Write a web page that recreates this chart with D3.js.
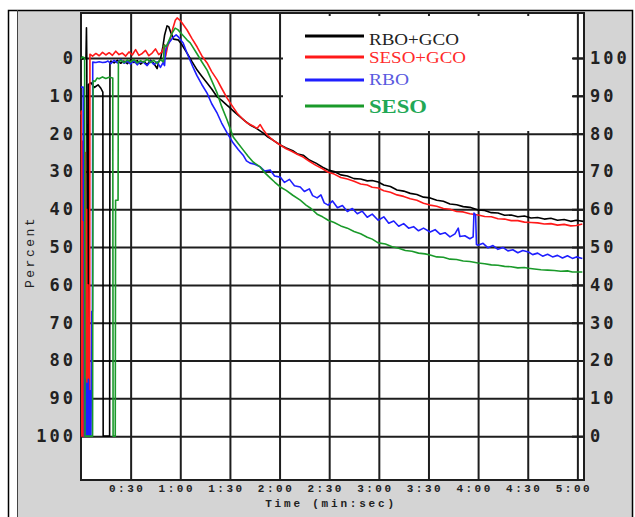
<!DOCTYPE html>
<html>
<head>
<meta charset="utf-8">
<script src="https://cdn.jsdelivr.net/npm/d3@7"></script>
<style>
  body { margin: 0; background: #fff; }
  svg { display: block; }
  .grid line { stroke: #1e1e1e; stroke-width: 2; }
  .grid path { display: none; }
  .ylab text { font-family: "DejaVu Sans Mono", monospace; font-weight: bold; font-size: 17px; letter-spacing: 3px; fill: #222; }
  .xlab text { font-family: "Liberation Mono", monospace; font-weight: bold; font-size: 11px; letter-spacing: 2.5px; fill: #222; }
  .trace { fill: none; stroke-width: 1.6; stroke-linejoin: round; }
</style>
</head>
<body>
<script>
// series names + colours (legend order)
const seriesNames = ['RBO+GCO', 'SESO+GCO', 'RBO', 'SESO'];
const seriesColors = ['#000000', '#ff1a1a', '#1f1fff', '#1a9a2a'];
const legendTextColors = ['#222222', '#ff2a2a', '#5a5ae0', '#22a855'];

// ticks
const timeTicks = [30, 60, 90, 120, 150, 180, 210, 240, 270, 300];   // seconds
const pctTicks = [0, 10, 20, 30, 40, 50, 60, 70, 80, 90, 100];

// traces as [seconds, percent (left axis)]
const rboGco = [
  [0,0],[1,0.3],[2,0],[3,0.2],[3.3,-8],[3.5,0],[3.9,88],[4.3,86],[4.6,7],[6,6.5],[8,7.8],[10.3,7.1],[12,8],[13.2,9],
  [13.4,100],[17.3,100],[17.5,1.2],[18,0.8],[20,1.3],[22,0.6],[24,1.4],[26,0.8],[28,1.5],[30,0.5],[32,1.2],[34,0.7],
  [36,1.6],[38,0.9],[40,1.8],[42,0.6],[44,1.4],[46,2.8],[47,0.9],[48,0.4],[49.5,-3],[50.5,-6],[52,-8.5],[53,-8.3],
  [54.5,-6.5],[56,-5],[58.7,-4.8],[61,-3.5],[64.1,-1.3],[67,0.9],[70.2,3.2],[73,4.8],[76.2,6.6],[79,8.2],[82.3,10.3],
  [85,11.2],[88,12.4],[90.1,13.2],[93,14.4],[96.2,15.6],[99,16.6],[102.2,17.7],[106,18.6],[110,19.8],[113,20.9],
  [116,21.7],[120.4,23.0],[124,23.8],[128,24.5],[131,25.4],[134.3,25.7],[138,27.0],[142,27.8],[146,28.9],[149.4,29.6],
  [153,30.0],[157,30.9],[161,31.2],[165,31.9],[169,32.0],[173,32.5],[176,32.4],[179.6,32.8],[183,33.6],[187,34.0],
  [191,34.9],[195,35.2],[199,35.8],[203,36.1],[207,36.8],[211,37.0],[215,37.6],[219,37.9],[223,38.6],[227,38.8],
  [231,39.3],[235,39.5],[240,40.2],[244,40.3],[248,40.9],[252,41.0],[256,41.6],[260,41.5],[264,42.0],[268,41.8],
  [272,42.3],[276,42.2],[280,42.6],[284,42.4],[288,42.9],[292,42.7],[296,43.2],[299.4,42.9],[303.6,43.2]
];
const sesoGco = [
  [0,15],[0.3,14],[0.5,100],[1,22],[1.4,100],[1.8,30],[2.2,100],[2.6,25],[3,100],[3.4,40],[3.8,100],[4.2,60],
  [4.6,100],[5.2,100],[5.4,-1],[7,-0.5],[9,-1.2],[11,-0.6],[13,-1.5],[15,-0.8],[17,-1.4],[19,-0.7],[21,-1.8],
  [23,-0.9],[25,-1.3],[27,-0.5],[29,-1.6],[31,-0.8],[33,-2.2],[35,-0.7],[37,-1.2],[39,-2.0],[41,-0.6],[43,-1.3],
  [45,-2.4],[47,-0.9],[49,-1.6],[50.5,-3.5],[51.2,-0.5],[52.3,-3],[54,-5],[55.5,-7.8],[57,-10],[58.1,-10.6],
  [59.5,-10.1],[61,-9.3],[64.1,-7.4],[67,-5.2],[70.2,-2.9],[73,-0.6],[76.2,1.3],[79,3.6],[82.3,5.8],[85,8.0],
  [88.3,10.6],[91,12.4],[94.4,14.6],[97,15.8],[100.4,17.2],[104,18.0],[106.5,18.6],[108.3,17.6],[110,18.9],
  [113,20.6],[116,21.7],[120.4,23.0],[124,24.0],[127,24.6],[131,25.5],[134.3,26.2],[138,27.3],[142,28.4],[146,29.3],
  [149.4,30.2],[153,30.7],[157,31.6],[161,32.0],[165,32.6],[169,33.3],[173,33.6],[176,34.2],[179.6,34.4],[183,35.1],
  [187,35.5],[191,36.2],[195,36.6],[199,37.2],[203,37.6],[207,38.4],[211,38.9],[215,39.2],[219,39.8],[223,40.0],
  [227,40.6],[231,40.7],[235,41.2],[240,41.5],[244,41.9],[248,42.0],[252,42.5],[256,42.6],[260,43.0],[264,43.0],
  [268,43.4],[272,43.5],[276,43.6],[280,43.9],[284,43.8],[288,44.2],[292,44.0],[296,44.4],[299.4,44.3],[303,43.9]
];
const rbo = [
  [0,7.7],[1.3,7.7],[1.5,43],[1.9,43],[2.1,100],[2.6,85],[3,100],[3.5,86],[4,100],[4.5,85],[5,100],[5.5,88],[6,100],
  [6.5,67],[6.9,67],[7.1,1.1],[9,1.2],[11,1.0],[13,1.2],[15,1.1],[16.3,0.8],[18,1.5],[20,0.6],[22,1.3],[24,0.4],
  [26,1.4],[28,0.8],[30,1.6],[32,0.7],[34,1.8],[36,0.9],[38,1.2],[40,2.0],[42,0.8],[44,1.7],[46,1.0],[48,2.5],
  [49.6,1.2],[50.5,2.0],[51,-1.5],[52,-3.4],[54,-4.5],[56,-5.6],[57.5,-6.1],[59,-5.5],[61.7,-4.0],[64,-1.4],
  [67.7,2.4],[70,4.6],[73,7.0],[76.2,9.3],[79,12.1],[82.3,14.6],[85,17.2],[88.3,19.8],[92,22.5],[95,24.2],[98,25.7],
  [100,27.2],[102.2,27.8],[105,28.1],[108.3,28.8],[111,29.9],[114.3,29.6],[117,31.2],[120.4,31.5],[123,32.9],
  [126,32.1],[129,33.8],[132.5,34.1],[135,35.3],[138,34.6],[140,36.4],[142.7,37.0],[145,36.2],[147,38.3],[149.4,38.9],
  [152,37.8],[155,39.6],[158,39.0],[161,40.6],[164,39.8],[167,41.2],[170,40.5],[173,42.1],[176,41.3],[179.6,42.9],
  [183,42.0],[186,43.7],[189,43.1],[192,44.5],[195,43.8],[198,45.0],[201,44.6],[204,45.7],[207,45.0],[211,46.0],
  [214,45.4],[217,46.6],[220,46.2],[223,47.3],[226,46.5],[228,45.0],[229,47.2],[232,47.0],[235,47.8],[237,47.3],
  [237.5,41.0],[238.5,41.5],[239,49.3],[240,49.5],[243,49.0],[246,50.2],[249,49.6],[252,50.6],[255,50.1],[258,51.0],
  [261,50.7],[264,51.5],[267,50.9],[270.4,51.3],[273,52.0],[276,51.6],[279,52.4],[282,51.9],[285,52.6],[288,52.2],
  [291,52.9],[294,52.3],[297,53.0],[299.4,52.6],[303,53.0]
];
const seso = [
  [0,0.2],[1,-0.3],[2.2,0],[2.4,100],[7,100],[7.3,6.0],[8.5,6.2],[9.7,5.3],[11,5.5],[13,5.0],[15,5.4],[17,5.1],
  [19.2,5.3],[19.4,100],[20.7,100],[20.9,37.6],[22.4,37.6],[22.6,1.1],[24,0.6],[26,1.2],[28,0.5],[30,1.0],[32,0.4],
  [34,1.3],[36,0.7],[38,1.1],[40,0.3],[42,1.2],[44,0.6],[46,1.4],[48,0.5],[49.8,1.0],[50.3,-3.4],[51.5,-3.0],
  [53,-4.5],[55,-6.5],[56.9,-7.9],[58.5,-7.5],[61,-6.3],[64,-4.8],[66,-4.0],[70,-1.2],[73,1.0],[76.2,3.2],[79,6.0],
  [82.3,9.3],[85,12.8],[88.3,16.4],[92,20.9],[95,22.6],[98,24.3],[101,26.0],[104,27.5],[108.3,28.8],[111,30.3],
  [114.3,31.7],[117,32.8],[120.4,34.1],[124,35.0],[128,36.3],[132.5,37.6],[136,38.9],[139,39.8],[142.7,41.3],
  [146,42.0],[149.4,42.9],[153,43.5],[157,44.4],[161,45.0],[165,45.9],[169,46.5],[173,47.4],[176,47.9],[179.6,48.9],
  [184,49.2],[188,49.9],[192,50.3],[196,50.9],[200,51.1],[204,51.6],[208,51.8],[211,52.1],[215,52.6],[219,52.7],
  [223,53.2],[227,53.3],[231,53.7],[235,53.8],[240,54.2],[244,54.4],[248,54.7],[252,54.8],[256,55.1],[260,55.2],
  [264,55.5],[268,55.4],[270.4,55.6],[274,55.8],[278,56.0],[282,56.1],[286,56.2],[290,56.4],[294,56.3],[297,56.6],
  [299.4,56.6],[303,56.6]
];
const traces = [rboGco, sesoGco, rbo, seso];

const W = 635, H = 517;
const plot = { left: 81, right: 584, top: 13, bottom: 480 };

const svg = d3.select('body').append('svg').attr('width', W).attr('height', H);

// frame + grey panel
svg.append('rect').attr('x', 17).attr('y', 10).attr('width', 615).attr('height', H).attr('fill', '#d4d4d4');
svg.append('path').attr('d', `M8.5,${H} V10.5 H632.5 V${H}`).attr('fill', 'none').attr('stroke', '#000').attr('stroke-width', 1.5);
svg.append('line').attr('x1', 17.5).attr('x2', 17.5).attr('y1', 10).attr('y2', H).attr('stroke', '#444').attr('stroke-width', 1);

// plot area
svg.append('rect')
  .attr('x', plot.left).attr('y', plot.top)
  .attr('width', plot.right - plot.left).attr('height', plot.bottom - plot.top)
  .attr('fill', '#fff');

const x = d3.scaleLinear().domain([0, 304]).range([plot.left, plot.right]);
const y = d3.scaleLinear().domain([-11.9, 111.6]).range([plot.top, plot.bottom]);

const mmss = (s) => `${Math.floor(s / 60)}:${d3.format('02d')(s % 60)}`;

// vertical grid + time labels
svg.append('g')
  .attr('class', 'grid xlab')
  .attr('transform', `translate(0,${plot.bottom})`)
  .call(d3.axisBottom(x).tickValues(timeTicks).tickSize(-(plot.bottom - plot.top)).tickPadding(4).tickFormat(mmss))
  .selectAll('text').attr('dx', -4);

// horizontal grid + left labels
svg.append('g')
  .attr('class', 'grid ylab')
  .attr('transform', `translate(${plot.left},0)`)
  .call(d3.axisLeft(y).tickValues(pctTicks).tickSize(-(plot.right - plot.left)).tickPadding(5));

// legend box hides the grid behind it
svg.append('rect').attr('x', 283).attr('y', 16).attr('width', 290).attr('height', 115).attr('fill', '#fff');

// right labels (100 - left)
svg.append('g')
  .attr('class', 'grid ylab')
  .attr('transform', `translate(${plot.right},0)`)
  .call(d3.axisRight(y).tickValues(pctTicks).tickSize(-12).tickPadding(6).tickFormat((d) => 100 - d));

// border
svg.append('rect')
  .attr('x', plot.left).attr('y', plot.top)
  .attr('width', plot.right - plot.left).attr('height', plot.bottom - plot.top)
  .attr('fill', 'none').attr('stroke', '#1e1e1e').attr('stroke-width', 2);

// traces
const line = d3.line().x((d) => x(d[0])).y((d) => y(d[1]));
traces.forEach((data, i) => {
  svg.append('path')
    .datum(data)
    .attr('class', 'trace')
    .attr('stroke', seriesColors[i])
    .attr('d', line);
});

// legend
const legRows = [36, 57, 80, 106];
const legBase = [45, 63, 85, 113];
const legWidths = [90, 97, 40, 58];
seriesNames.forEach((name, i) => {
  svg.append('line')
    .attr('x1', 305).attr('x2', 364)
    .attr('y1', legRows[i]).attr('y2', legRows[i])
    .attr('stroke', seriesColors[i]).attr('stroke-width', 3);
  svg.append('text')
    .attr('x', 369).attr('y', legBase[i])
    .attr('font-family', '"Liberation Serif", serif')
    .attr('font-size', i === 3 ? 19 : 17)
    .attr('font-weight', i === 3 ? 'bold' : 'normal')
    .attr('fill', legendTextColors[i])
    .attr('textLength', legWidths[i])
    .attr('lengthAdjust', 'spacingAndGlyphs')
    .text(name);
});

// axis titles
svg.append('text')
  .attr('x', 331).attr('y', 507)
  .attr('text-anchor', 'middle')
  .attr('font-family', '"Liberation Mono", monospace')
  .attr('font-weight', 'bold')
  .attr('font-size', 11)
  .attr('letter-spacing', '2.8px')
  .attr('fill', '#222')
  .text('Time (min:sec)');

svg.append('text')
  .attr('transform', 'translate(34,288) rotate(-90)')
  .attr('font-family', '"Liberation Mono", monospace')
  .attr('font-size', 13)
  .attr('letter-spacing', '2.5px')
  .attr('fill', '#222')
  .text('Percent');
</script>
</body>
</html>
